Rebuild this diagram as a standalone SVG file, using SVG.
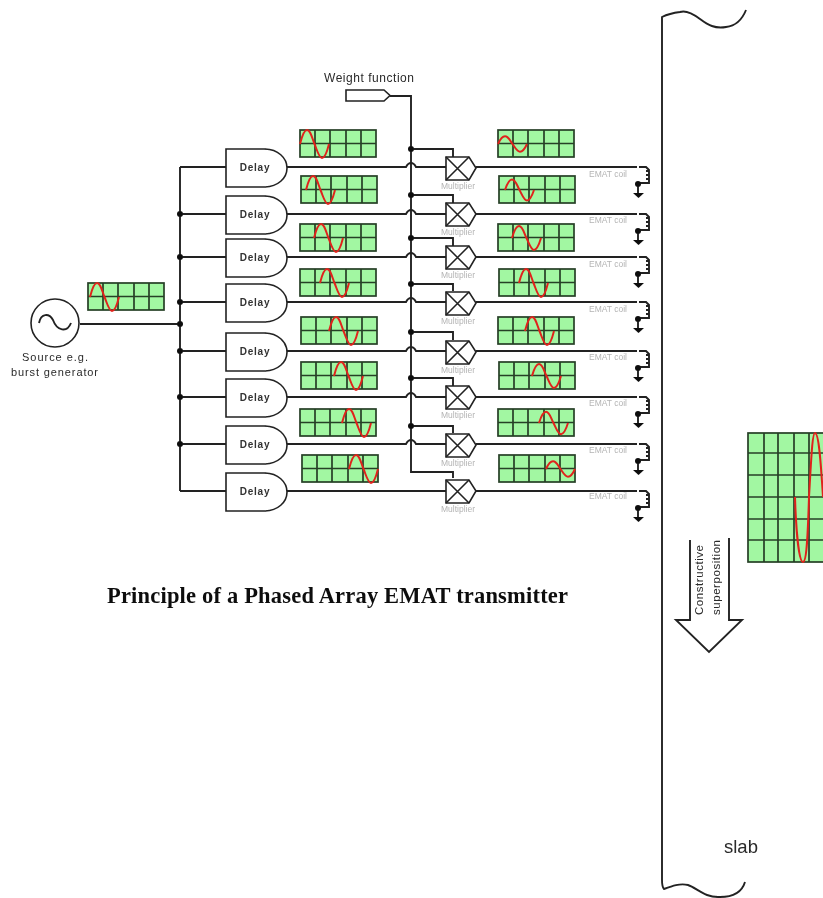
<svg xmlns="http://www.w3.org/2000/svg" width="823" height="898" viewBox="0 0 823 898">
<style>
.l{fill:none;stroke:#222;stroke-width:1.9}
.s{fill:#fff;stroke:#222;stroke-width:1.6}
.d{fill:#111;stroke:none}
.t{font-family:"Liberation Sans",Arial,sans-serif;fill:#2a2a2a}
.g{font-family:"Liberation Sans",Arial,sans-serif;font-size:8.5px;fill:#b4b4b4}
.dl{font-family:"Liberation Sans",Arial,sans-serif;font-size:10px;font-weight:bold;fill:#333;text-anchor:middle;letter-spacing:.8px}
.grid{fill:#a2f7a2;stroke:#263f26;stroke-width:1.7}
.wave{fill:none;stroke:#e0241c;stroke-width:2;vector-effect:non-scaling-stroke}
</style>
<defs>
<filter id="b" x="-2%" y="-2%" width="104%" height="104%"><feGaussianBlur stdDeviation="0.45"/></filter>
<g id="scope"><rect class="grid" width="76" height="27"/><path class="grid" d="M15,0V27M30,0V27M46,0V27M61,0V27M0,13.500H76"/></g>
<path id="w" class="wave" d="M0,0C2,-8 4,-14 7,-14C10.500,-14 12,-6 14.500,0C17,6 19,14 22,14C25,14 27,8 29,0"/>
<path id="delay" class="s" d="M226,-18H264C278,-18 287,-9 287,1C287,11 278,20 264,20H226Z"/>
<g id="mult"><path class="s" d="M446,-11H469L476,0L469,12H446Z"/><path class="s" d="M446,-11L469,12M469,-11L446,12"/></g>
<g id="coil"><path class="l" d="M639,0H646L649,3V16H638V26"/><path class="l" d="M646,4H649M646,8H649M646,12H649"/><circle class="d" cx="638" cy="17" r="3"/><path class="d" d="M633,26H644L638.500,31Z"/></g>
</defs>
<g filter="url(#b)">
<g id="connectors">
<path class="l" d="M80,324H180M180,167V491M180,167H226M180,214H226M180,257H226M180,302H226M180,351H226M180,397H226M180,444H226M180,491H226"/>
<path class="l" d="M390,96H411V472H453V478"/>
<path class="l" d="M411,149H453V157M411,195H453V203M411,238H453V246M411,284H453V291M411,332H453V340M411,378H453V386M411,426H453V433"/>
<path class="l" d="M287,167H406Q408,163 411,163Q414,163 416,167H446M287,214H406Q408,210 411,210Q414,210 416,214H446M287,257H406Q408,253 411,253Q414,253 416,257H446M287,302H406Q408,298 411,298Q414,298 416,302H446M287,351H406Q408,347 411,347Q414,347 416,351H446M287,397H406Q408,393 411,393Q414,393 416,397H446M287,444H406Q408,440 411,440Q414,440 416,444H446M287,491H446"/>
<path class="l" d="M476,167H637M476,214H637M476,257H637M476,302H637M476,351H637M476,397H637M476,444H637M476,491H637"/>
<g class="d">
<circle cx="180" cy="214" r="3"/><circle cx="180" cy="257" r="3"/><circle cx="180" cy="302" r="3"/><circle cx="180" cy="324" r="3"/><circle cx="180" cy="351" r="3"/><circle cx="180" cy="397" r="3"/><circle cx="180" cy="444" r="3"/>
<circle cx="411" cy="149" r="3"/><circle cx="411" cy="195" r="3"/><circle cx="411" cy="238" r="3"/><circle cx="411" cy="284" r="3"/><circle cx="411" cy="332" r="3"/><circle cx="411" cy="378" r="3"/><circle cx="411" cy="426" r="3"/>
</g>
</g>
<g id="source"><circle class="s" cx="55" cy="323" r="24"/><path class="l" d="M39,323C41,313 49,313 53,320C57,331 67,333 71,323"/><text class="t" x="22" y="361" font-size="11" textLength="66" lengthAdjust="spacing">Source e.g.</text><text class="t" x="11" y="376" font-size="11" textLength="87" lengthAdjust="spacing">burst generator</text></g>
<g id="source-scope"><use href="#scope" x="88" y="283"/><use href="#w" x="90" y="297"/></g>
<g id="weight"><path class="s" d="M346,90H384L390,95.500L384,101H346Z"/><text class="t" x="324" y="82" font-size="12" textLength="90" lengthAdjust="spacing">Weight function</text></g>
<g id="delay1"><use href="#delay" y="167"/><text class="dl" x="255" y="171">Delay</text></g>
<g id="delay2"><use href="#delay" y="214"/><text class="dl" x="255" y="218">Delay</text></g>
<g id="delay3"><use href="#delay" y="257"/><text class="dl" x="255" y="261">Delay</text></g>
<g id="delay4"><use href="#delay" y="302"/><text class="dl" x="255" y="306">Delay</text></g>
<g id="delay5"><use href="#delay" y="351"/><text class="dl" x="255" y="355">Delay</text></g>
<g id="delay6"><use href="#delay" y="397"/><text class="dl" x="255" y="401">Delay</text></g>
<g id="delay7"><use href="#delay" y="444"/><text class="dl" x="255" y="448">Delay</text></g>
<g id="delay8"><use href="#delay" y="491"/><text class="dl" x="255" y="495">Delay</text></g>
<g id="scopes-left">
<use href="#scope" x="300" y="130"/><use href="#w" x="300" y="144"/>
<use href="#scope" x="301" y="176"/><use href="#w" x="306" y="190"/>
<use href="#scope" x="300" y="224"/><use href="#w" x="314" y="238"/>
<use href="#scope" x="300" y="269"/><use href="#w" x="320" y="283"/>
<use href="#scope" x="301" y="317"/><use href="#w" x="329" y="331"/>
<use href="#scope" x="301" y="362"/><use href="#w" x="334" y="376"/>
<use href="#scope" x="300" y="409"/><use href="#w" x="342" y="423"/>
<use href="#scope" x="302" y="455"/><use href="#w" x="349" y="469"/>
</g>
<g id="scopes-right">
<use href="#scope" x="498" y="130"/><use href="#w" transform="translate(498,144) scale(1,.55)"/>
<use href="#scope" x="499" y="176"/><use href="#w" transform="translate(505,190) scale(1,.75)"/>
<use href="#scope" x="498" y="224"/><use href="#w" transform="translate(512,238) scale(1,.85)"/>
<use href="#scope" x="499" y="269"/><use href="#w" x="519" y="283"/>
<use href="#scope" x="498" y="317"/><use href="#w" x="525" y="331"/>
<use href="#scope" x="499" y="362"/><use href="#w" transform="translate(532,376) scale(1,.85)"/>
<use href="#scope" x="498" y="409"/><use href="#w" transform="translate(539,423) scale(1,.8)"/>
<use href="#scope" x="499" y="455"/><use href="#w" transform="translate(546,469) scale(1,.55)"/>
</g>
<g id="mult1"><use href="#mult" y="168"/><text class="g" x="441" y="189">Multiplier</text></g>
<g id="mult2"><use href="#mult" y="214"/><text class="g" x="441" y="235">Multiplier</text></g>
<g id="mult3"><use href="#mult" y="257"/><text class="g" x="441" y="278">Multiplier</text></g>
<g id="mult4"><use href="#mult" y="303"/><text class="g" x="441" y="324">Multiplier</text></g>
<g id="mult5"><use href="#mult" y="352"/><text class="g" x="441" y="373">Multiplier</text></g>
<g id="mult6"><use href="#mult" y="397"/><text class="g" x="441" y="418">Multiplier</text></g>
<g id="mult7"><use href="#mult" y="445"/><text class="g" x="441" y="466">Multiplier</text></g>
<g id="mult8"><use href="#mult" y="491"/><text class="g" x="441" y="512">Multiplier</text></g>
<g id="coil1"><use href="#coil" y="167"/><text class="g" x="589" y="177">EMAT coil</text></g>
<g id="coil2"><use href="#coil" y="214"/><text class="g" x="589" y="223">EMAT coil</text></g>
<g id="coil3"><use href="#coil" y="257"/><text class="g" x="589" y="267">EMAT coil</text></g>
<g id="coil4"><use href="#coil" y="302"/><text class="g" x="589" y="312">EMAT coil</text></g>
<g id="coil5"><use href="#coil" y="351"/><text class="g" x="589" y="360">EMAT coil</text></g>
<g id="coil6"><use href="#coil" y="397"/><text class="g" x="589" y="406">EMAT coil</text></g>
<g id="coil7"><use href="#coil" y="444"/><text class="g" x="589" y="453">EMAT coil</text></g>
<g id="coil8"><use href="#coil" y="491"/><text class="g" x="589" y="499">EMAT coil</text></g>
<g id="slab"><path class="l" d="M746,10C742,20 735,26 726,27C715,29 708,25 700,19C692,13 686,10 680,12C672,13 668,14 662,17V880C662,885 663,888 664,889C672,886 680,883 688,885C697,888 705,898 720,897C733,897 742,892 745,882"/><text class="t" x="724" y="853" font-size="18.500" fill="#333">slab</text></g>
<g id="superposition"><rect class="grid" x="748" y="433" width="80" height="129"/><path class="grid" d="M764,433V562M778,433V562M794,433V562M809,433V562M748,453H828M748,475H828M748,497H828M748,519H828M748,540H828"/><path class="wave" d="M795,497C796,530 799,562 803,562C807,562 808,530 809,497C811,465 812,433 815,433C819,433 821,465 823,497"/></g>
<g id="arrow"><path class="l" d="M690,540V620H676L709,652L742,620H729V538"/><text class="t" transform="translate(703,615) rotate(-90)" font-size="11.500" textLength="70" lengthAdjust="spacing">Constructive</text><text class="t" transform="translate(720,615) rotate(-90)" font-size="11.500" textLength="75" lengthAdjust="spacing">superposition</text></g>
<text id="title" x="107" y="603" font-family="'Liberation Serif','Times New Roman',serif" font-size="22.500" font-weight="bold" fill="#111" textLength="461" lengthAdjust="spacing">Principle of a Phased Array EMAT transmitter</text>
</g>
</svg>
